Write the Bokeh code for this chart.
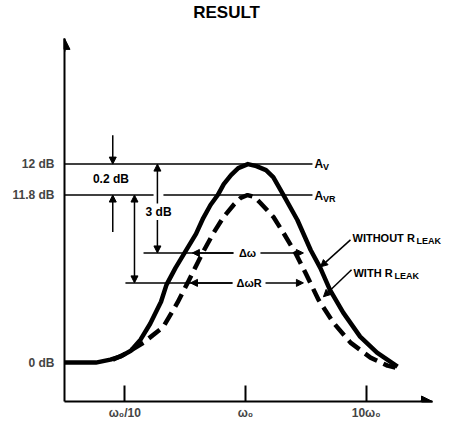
from bokeh.plotting import figure
from bokeh.models import Range1d, FixedTicker, Arrow, NormalHead, Label
from bokeh.embed import file_html
from bokeh.resources import INLINE

FONT = "Liberation Sans"

# x: log10(omega / omega0)   y: schematic gain level (0 dB -> 0, 12 dB -> 12, 11.8 dB drawn exaggerated)
level_pos = [0, 10.13, 12]
level_labels = ["0 dB", "11.8 dB", "12 dB"]
freq_pos = [-1, 0, 1]
freq_labels = ["ω₀/10", "ω₀", "10ω₀"]

# response without R_LEAK (solid)
without_x = [-1.50, -1.24, -1.12, -1.04, -0.95, -0.87, -0.79, -0.70, -0.655, -0.58, -0.50, -0.41,
             -0.35, -0.29, -0.23, -0.18, -0.12, -0.06, 0.02, 0.09, 0.17, 0.23, 0.315, 0.43,
             0.54, 0.62, 0.70, 0.81, 0.95, 1.09, 1.26]
without_y = [0.0, 0.0, 0.18, 0.36, 0.72, 1.39, 2.35, 3.68, 4.70, 5.73, 6.69, 7.78,
             8.74, 9.53, 10.13, 10.79, 11.34, 11.76, 12.0, 11.88, 11.64, 11.22, 10.13, 8.62,
             6.81, 5.73, 4.40, 3.02, 1.57, 0.60, -0.24]

# response with R_LEAK (dashed)
with_x = [-1.10, -1.01, -0.845, -0.68, -0.564, -0.48, -0.356, -0.265, -0.182, -0.099, -0.041, 0.017,
          0.075, 0.124, 0.232, 0.315, 0.414, 0.497, 0.605, 0.729, 0.870, 1.036, 1.177, 1.243]
with_y = [0.18, 0.48, 1.21, 2.17, 3.62, 4.82, 6.63, 7.84, 8.80, 9.53, 9.95, 10.13,
          10.01, 9.65, 8.80, 7.84, 6.63, 5.43, 3.80, 2.41, 1.21, 0.30, -0.18, -0.30]

# half-power levels (3 dB below each peak)
bw_levels = [6.63, 4.82]

X0, X1 = -1.5, 1.55      # drawn extent of the frequency axis
Y0, Y1 = -2.35, 19.6     # drawn extent of the gain axis

p = figure(width=448, height=422, output_backend="svg", toolbar_location=None,
           x_range=Range1d(X0, 1.6825), y_range=Range1d(Y0, 21.89),
           min_border_left=64, min_border_right=0, min_border_top=0, min_border_bottom=20)
p.grid.visible = False
p.outline_line_color = None

xa = p.xaxis[0]
xa.bounds = (X0, X1)
xa.ticker = FixedTicker(ticks=freq_pos)
xa.major_label_overrides = {float(v): l for v, l in zip(freq_pos, freq_labels)}
xa.axis_line_width = 2
xa.major_tick_in = 16
xa.major_tick_out = 0
xa.major_tick_line_width = 2
xa.minor_tick_line_color = None
xa.major_label_standoff = 4
xa.major_label_text_font = FONT
xa.major_label_text_font_style = "bold"
xa.major_label_text_font_size = "12px"

ya = p.yaxis[0]
ya.bounds = (Y0, Y1)
ya.ticker = FixedTicker(ticks=level_pos)
ya.major_label_overrides = {float(v): l for v, l in zip(level_pos, level_labels)}
ya.axis_line_width = 2
ya.major_tick_in = 0
ya.major_tick_out = 0
ya.minor_tick_line_color = None
ya.major_label_standoff = 10
ya.major_label_text_font = FONT
ya.major_label_text_font_style = "bold"
ya.major_label_text_font_size = "12px"

def head(size=7):
    return NormalHead(size=size, fill_color="black", line_color="black", line_width=1)

# axis arrowheads
p.add_layout(Arrow(end=head(11), x_start=X0, y_start=Y1 - 0.8, x_end=X0, y_end=Y1, line_width=2))
p.add_layout(Arrow(end=head(11), x_start=X1 - 0.1, y_start=Y0, x_end=X1, y_end=Y0, line_width=2))

# reference lines
top, vr = level_pos[2], level_pos[1]
p.segment(x0=[X0, X0, -0.68, -0.845, -0.995],
          y0=[top, vr, vr, bw_levels[0], bw_levels[1]],
          x1=[0.555, -0.762, 0.555, -0.10, -0.108],
          y1=[top, vr, vr, bw_levels[0], bw_levels[1]],
          line_width=1.5, color="black")

# curves
p.line(without_x, without_y, line_width=4.5, color="black", line_join="round")
p.line(with_x, with_y, line_width=4.5, color="black", line_dash="14 7")

def arrow(x0, y0, x1, y1, both=False, size=7):
    p.add_layout(Arrow(end=head(size), start=head(size) if both else None,
                       x_start=x0, y_start=y0, x_end=x1, y_end=y1,
                       line_width=1.5, line_color="black"))

# 0.2 dB arrows
arrow(-1.10, 13.75, -1.10, top)
arrow(-1.10, 7.9, -1.10, vr)
# 3 dB arrows
arrow(-0.73, 9.62, -0.73, top)
arrow(-0.73, 8.62, -0.73, bw_levels[0])
arrow(-0.92, vr, -0.92, bw_levels[1], both=True)
# bandwidth arrows
arrow(-0.10, bw_levels[0], -0.44, bw_levels[0])
arrow(0.124, bw_levels[0], 0.48, bw_levels[0])
arrow(-0.108, bw_levels[1], -0.456, bw_levels[1])
arrow(0.166, bw_levels[1], 0.48, bw_levels[1])
# curve pointers
arrow(0.87, 7.42, 0.622, 5.79)
arrow(0.879, 5.61, 0.646, 3.98)

def txt(x, y, s, size="12px", align="left", dx=0, dy=0):
    p.add_layout(Label(x=x, y=y, text=s, text_font=FONT, text_font_style="bold",
                       text_font_size=size, text_align=align, text_baseline="middle",
                       text_color="black", x_offset=dx, y_offset=dy))

txt(-1.115, 11.07, "0.2 dB", align="center")
txt(-0.72, 9.1, "3 dB", align="center")
txt(0.017, bw_levels[0], "Δω", size="11px", align="center")
txt(0.03, bw_levels[1], "ΔωR", size="11px", align="center")
txt(0.572, 12.0, "A")
txt(0.572, 12.0, "V", size="9px", dx=8.5, dy=-3)
txt(0.572, 10.07, "A")
txt(0.572, 10.07, "VR", size="9px", dx=8.5, dy=-3)
txt(0.887, 7.54, "WITHOUT R", size="11px")
txt(0.887, 7.54, "LEAK", size="9px", dx=64, dy=-3)
txt(0.895, 5.42, "WITH R", size="11px")
txt(0.895, 5.42, "LEAK", size="9px", dx=41, dy=-3)

txt(-0.157, 21.17, "RESULT", size="17px", align="center")

open("out.html", "w").write(file_html(p, INLINE))
